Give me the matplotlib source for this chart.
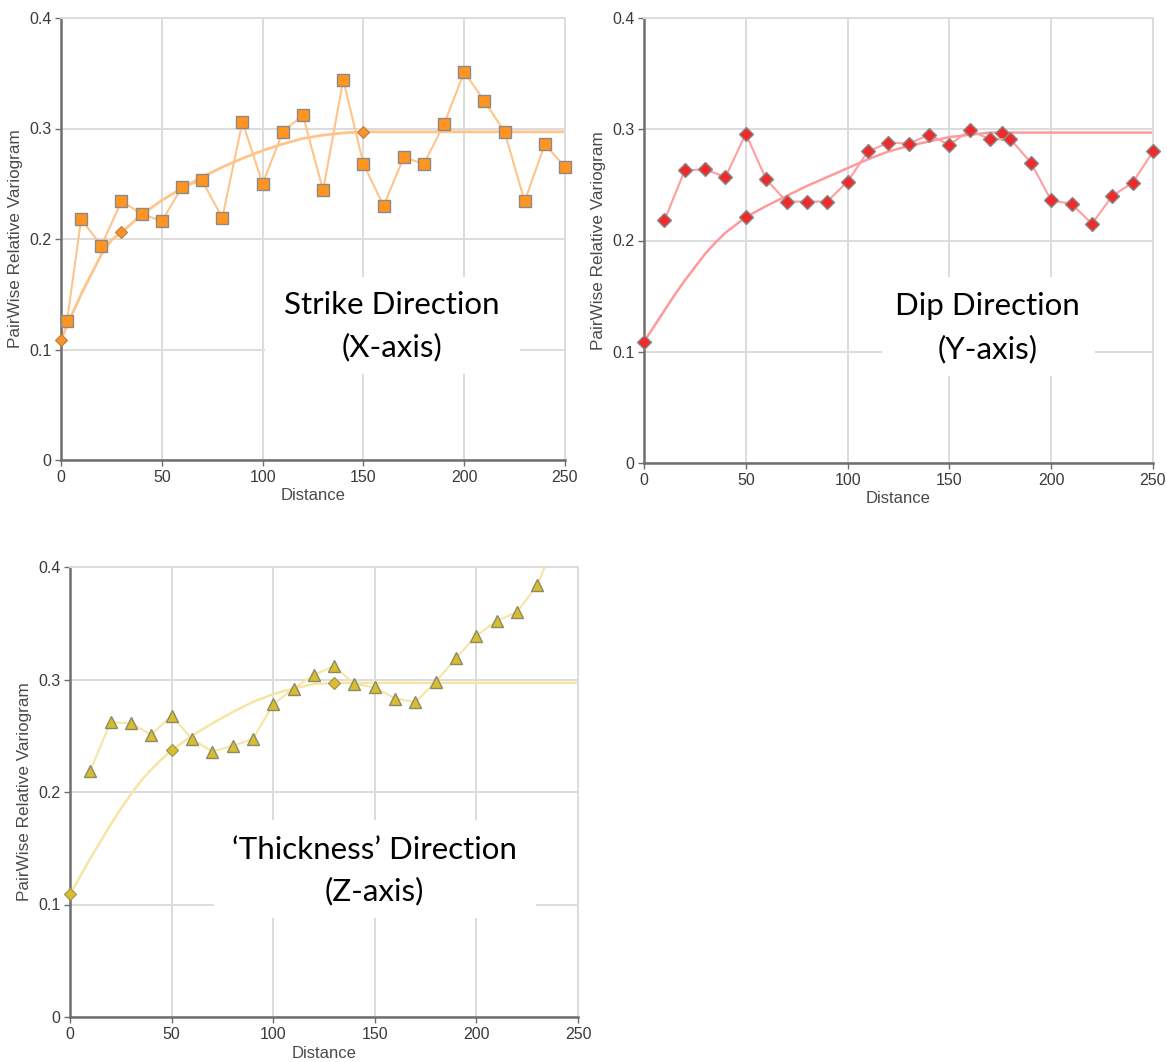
import matplotlib
matplotlib.use("Agg")
import matplotlib.pyplot as plt
from matplotlib.patches import Rectangle

# ---- values ----
x_ticks = [0, 50, 100, 150, 200, 250]
y_ticks = [0, 0.1, 0.2, 0.3, 0.4]
y_ticklabels = ["0", "0.1", "0.2", "0.3", "0.4"]

# strike direction (X-axis)
strike_lag = [3, 10, 20, 30, 40, 50, 60, 70, 80, 90, 100, 110, 120, 130, 140,
              150, 160, 170, 180, 190, 200, 210, 220, 230, 240, 250]
strike_gam = [0.126, 0.218, 0.194, 0.234, 0.223, 0.216, 0.247, 0.253, 0.219, 0.306,
              0.250, 0.297, 0.312, 0.244, 0.344, 0.268, 0.230, 0.274, 0.268, 0.304,
              0.351, 0.325, 0.297, 0.234, 0.286, 0.265]
strike_model_h = [0, 5, 10, 15, 20, 25, 30, 35, 40, 50, 60, 70, 80, 90, 100, 110,
                  120, 130, 140, 150, 250]
strike_model_g = [0.109, 0.130, 0.150, 0.168, 0.186, 0.199, 0.206, 0.214, 0.222, 0.235,
                  0.246, 0.256, 0.265, 0.273, 0.280, 0.286, 0.291, 0.294, 0.296, 0.297,
                  0.297]
strike_knots_h = [0, 30, 150]
strike_knots_g = [0.109, 0.206, 0.297]

# dip direction (Y-axis)
dip_lag = [10, 20, 30, 40, 50, 60, 70, 80, 90, 100, 110, 120, 130, 140, 150, 160,
           170, 180, 190, 200, 210, 220, 230, 240, 250]
dip_gam = [0.218, 0.263, 0.264, 0.257, 0.296, 0.255, 0.235, 0.235, 0.235, 0.253,
           0.280, 0.288, 0.287, 0.295, 0.286, 0.299, 0.291, 0.291, 0.270, 0.236,
           0.233, 0.215, 0.240, 0.252, 0.280]
dip_model_h = [0, 5, 10, 15, 20, 25, 30, 35, 40, 45, 50, 60, 70, 80, 90, 100, 110,
               120, 130, 140, 150, 160, 170, 176, 250]
dip_model_g = [0.109, 0.123, 0.137, 0.151, 0.164, 0.176, 0.188, 0.198, 0.207, 0.214,
               0.221, 0.231, 0.240, 0.249, 0.257, 0.265, 0.273, 0.280, 0.285, 0.289,
               0.293, 0.295, 0.297, 0.297, 0.297]
dip_knots_h = [0, 50, 176]
dip_knots_g = [0.109, 0.221, 0.297]

# 'thickness' direction (Z-axis)
thick_lag = [10, 20, 30, 40, 50, 60, 70, 80, 90, 100, 110, 120, 130, 140, 150, 160,
             170, 180, 190, 200, 210, 220, 230, 240]
thick_gam = [0.219, 0.262, 0.261, 0.251, 0.268, 0.247, 0.236, 0.241, 0.247, 0.278,
             0.292, 0.304, 0.312, 0.296, 0.293, 0.283, 0.280, 0.298, 0.319, 0.339,
             0.352, 0.360, 0.384, 0.428]
thick_model_h = [0, 5, 10, 15, 20, 25, 30, 35, 40, 45, 50, 60, 70, 80, 90, 100, 110,
                 120, 130, 250]
thick_model_g = [0.109, 0.125, 0.141, 0.156, 0.171, 0.185, 0.198, 0.210, 0.220, 0.229,
                 0.237, 0.250, 0.261, 0.271, 0.280, 0.287, 0.292, 0.296, 0.297, 0.297]
thick_knots_h = [0, 50, 130]
thick_knots_g = [0.109, 0.237, 0.297]

W, H = 1167, 1062
fig = plt.figure(figsize=(W / 100, H / 100), dpi=100)

grid_c = "#dcdcdc"
spine_c = "#6e6e6e"


def make_axes(left, top, right, bottom):
    ax = fig.add_axes([left / W, 1 - bottom / H, (right - left) / W, (bottom - top) / H])
    ax.set_xlim(0, 250)
    ax.set_ylim(0, 0.4)
    ax.set_xticks(x_ticks)
    ax.set_yticks(y_ticks)
    ax.set_yticklabels(y_ticklabels)
    ax.set_axisbelow(True)
    ax.grid(True, color=grid_c, lw=1.4)
    for s in ["top", "right"]:
        ax.spines[s].set_color(grid_c)
        ax.spines[s].set_linewidth(1.4)
    for s in ["left", "bottom"]:
        ax.spines[s].set_color(spine_c)
        ax.spines[s].set_linewidth(1.8)
    ax.tick_params(length=4, width=1, color=spine_c, labelsize=11.5, labelcolor="#3a3a3a", pad=3)
    for lab in ax.get_xticklabels() + ax.get_yticklabels():
        lab.set_family("Liberation Sans")
    ax.set_xlabel("Distance", fontsize=12, color="#4a4a4a", family="Liberation Sans")
    ax.set_ylabel("PairWise Relative Variogram", fontsize=12.3, color="#4a4a4a", family="Liberation Sans")
    ax.xaxis.set_label_coords(0.5, -0.064)
    ax.yaxis.set_label_coords(-0.075, 0.5)
    return ax


def label_box(ax, box, cx, y1, y2, line1, line2):
    x0, y0, x1, y1b = box
    ax.add_patch(Rectangle((x0, y0), x1 - x0, y1b - y0, transform=ax.transAxes,
                           facecolor="white", edgecolor="none", zorder=1))
    ax.text(cx, y1, line1, transform=ax.transAxes, ha="center", va="baseline",
            fontsize=22.5, family="Lato", color="black", zorder=3)
    ax.text(cx, y2, line2, transform=ax.transAxes, ha="center", va="baseline",
            fontsize=22.5, family="Lato", color="black", zorder=3)


# strike
ax1 = make_axes(61, 18, 565, 460)
ax1.plot(strike_model_h, strike_model_g, color="#FFC48A", lw=2, zorder=2)
ax1.plot(strike_knots_h, strike_knots_g, ls="none", marker="D", ms=6,
         mfc="#F39432", mec="#c97a32", mew=0.8, zorder=3, clip_on=False)
ax1.plot(strike_lag, strike_gam, color="#FFC48A", lw=1.5, marker="s", ms=8.5,
         mfc="#FF9420", mec="#8a8a8a", mew=1, zorder=4, clip_on=False)
label_box(ax1, (0.405, 0.195, 0.911, 0.414), 0.657, 0.330, 0.235,
          "Strike Direction", "(X-axis)")

# dip
ax2 = make_axes(644, 18, 1153, 463)
ax2.plot(dip_model_h, dip_model_g, color="#FF9A9A", lw=1.8, zorder=2)
ax2.plot(dip_knots_h, dip_knots_g, ls="none", marker="D", ms=7.5,
         mfc="#EE2A2A", mec="#8a8a8a", mew=1, zorder=3, clip_on=False)
ax2.plot(dip_lag, dip_gam, color="#FF9E9E", lw=1.5, marker="D", ms=7.5,
         mfc="#EE2A2A", mec="#8a8a8a", mew=1, zorder=4, clip_on=False)
label_box(ax2, (0.467, 0.196, 0.886, 0.418), 0.675, 0.333, 0.236,
          "Dip Direction", "(Y-axis)")

# thickness
ax3 = make_axes(70, 567, 578, 1017)
ax3.plot(thick_model_h, thick_model_g, color="#F5E6A4", lw=1.8, zorder=2)
ax3.plot(thick_knots_h, thick_knots_g, ls="none", marker="D", ms=6.5,
         mfc="#D8BE2E", mec="#a09050", mew=0.8, zorder=3, clip_on=False)
ax3.plot(thick_lag, thick_gam, color="#F5E6A4", lw=1.5, marker="^", ms=9,
         mfc="#D8BE2E", mec="#8a8a6a", mew=1, zorder=4)
label_box(ax3, (0.283, 0.22, 0.917, 0.438), 0.600, 0.351, 0.260,
          "\u2018Thickness\u2019 Direction", "(Z-axis)")

fig.savefig("out.png", dpi=100)
